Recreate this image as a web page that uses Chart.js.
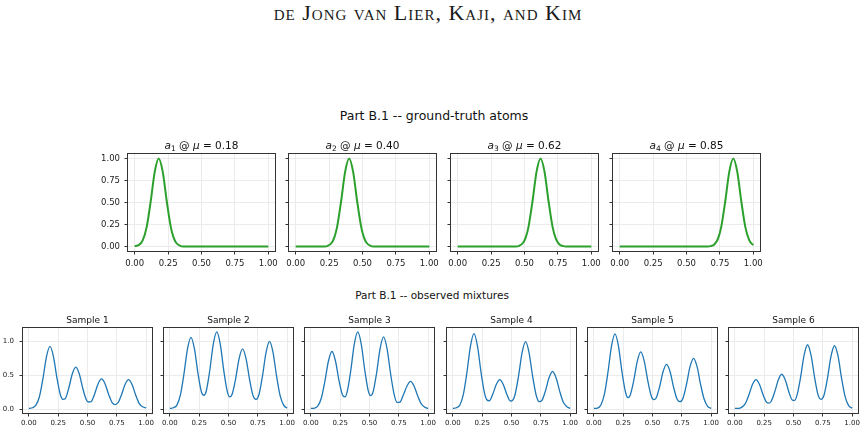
<!DOCTYPE html>
<html>
<head>
<meta charset="utf-8">
<script src="https://cdn.jsdelivr.net/npm/chart.js@4.4.1/dist/chart.umd.min.js"></script>
<style>
  body { margin: 0; background: #fff; width: 865px; height: 431px; position: relative; overflow: hidden;
         font-family: "DejaVu Sans", sans-serif; color: #111; }
  canvas { position: absolute; }
  .txt { position: absolute; white-space: nowrap; transform: translateX(-50%); line-height: 1; }
  #head { left: 428px; top: 2px; font-family: "Liberation Serif", serif; font-variant: small-caps;
          font-size: 22px; letter-spacing: 1px; color: #1a1a1a; }
</style>
</head>
<body>
<div id="head" class="txt">de Jong van Lier, Kaji, and Kim</div>
<div class="txt" style="left:434px; top:110px; font-size:12.5px">Part B.1 -- ground-truth atoms</div>
<div class="txt" style="left:432px; top:290px; font-size:10.5px">Part B.1 -- observed mixtures</div>
<script>
// shared x grid
const xGrid = [0.00, 0.03, 0.06, 0.09, 0.12, 0.15, 0.18, 0.21, 0.24, 0.27, 0.29, 0.31, 0.34, 0.37, 0.40,
               0.43, 0.46, 0.49, 0.51, 0.53, 0.56, 0.59, 0.62, 0.65, 0.68, 0.71, 0.735, 0.76, 0.79, 0.82,
               0.85, 0.88, 0.91, 0.94, 0.97, 1.00];

// ground-truth atoms
const atom1 = [0.006, 0.016, 0.070, 0.224, 0.514, 0.847, 1.000, 0.847, 0.514, 0.224, 0.107, 0.044, 0.009, 0.001, 0,
               0, 0, 0, 0, 0, 0, 0, 0, 0, 0, 0, 0, 0, 0, 0, 0, 0, 0, 0, 0, 0];
const atom2 = [0, 0, 0, 0, 0, 0, 0, 0.001, 0.009, 0.044, 0.107, 0.224, 0.514, 0.847, 1.000,
               0.847, 0.514, 0.224, 0.107, 0.044, 0.009, 0.001, 0, 0, 0, 0, 0, 0, 0, 0, 0, 0, 0, 0, 0, 0];
const atom3 = [0, 0, 0, 0, 0, 0, 0, 0, 0, 0, 0, 0, 0, 0, 0,
               0.001, 0.009, 0.044, 0.107, 0.224, 0.514, 0.847, 1.000, 0.847, 0.514, 0.224, 0.087, 0.027, 0.005, 0.001,
               0, 0, 0, 0, 0, 0];
const atom4 = [0, 0, 0, 0, 0, 0, 0, 0, 0, 0, 0, 0, 0, 0, 0, 0, 0, 0, 0, 0, 0, 0, 0,
               0.001, 0.005, 0.027, 0.087, 0.224, 0.514, 0.847, 1.000, 0.847, 0.514, 0.224, 0.070, 0.016];
const atomIndex = ['1', '2', '3', '4'];
const atomMu = ['0.18', '0.40', '0.62', '0.85'];

// observed mixtures
const sample1 = [0.010, 0.020, 0.060, 0.183, 0.450, 0.772, 0.925, 0.772, 0.454, 0.204, 0.145, 0.154, 0.308, 0.518, 0.620,
                 0.518, 0.305, 0.138, 0.105, 0.109, 0.221, 0.372, 0.445, 0.372, 0.218, 0.097, 0.068, 0.095, 0.213, 0.363,
                 0.435, 0.363, 0.212, 0.086, 0.035, 0.020];
const sample2 = [0.010, 0.020, 0.060, 0.210, 0.516, 0.885, 1.060, 0.885, 0.523, 0.249, 0.205, 0.264, 0.566, 0.955, 1.140,
                 0.955, 0.565, 0.258, 0.180, 0.215, 0.440, 0.743, 0.890, 0.743, 0.436, 0.196, 0.145, 0.216, 0.490, 0.835,
                 1.000, 0.835, 0.487, 0.198, 0.060, 0.015];
const sample3 = [0.010, 0.015, 0.048, 0.168, 0.414, 0.710, 0.850, 0.710, 0.421, 0.207, 0.180, 0.259, 0.565, 0.955, 1.140,
                 0.955, 0.571, 0.266, 0.200, 0.250, 0.526, 0.889, 1.065, 0.889, 0.520, 0.219, 0.100, 0.105, 0.215, 0.342,
                 0.410, 0.342, 0.200, 0.081, 0.030, 0.010];
const sample4 = [0.010, 0.020, 0.062, 0.221, 0.543, 0.931, 1.115, 0.931, 0.546, 0.236, 0.138, 0.124, 0.219, 0.363, 0.435,
                 0.363, 0.218, 0.120, 0.130, 0.212, 0.488, 0.831, 0.995, 0.831, 0.487, 0.208, 0.110, 0.130, 0.273, 0.463,
                 0.555, 0.463, 0.270, 0.110, 0.040, 0.010];
const sample5 = [0.010, 0.015, 0.062, 0.220, 0.541, 0.927, 1.110, 0.927, 0.546, 0.249, 0.170, 0.205, 0.419, 0.706, 0.845,
                 0.706, 0.416, 0.189, 0.140, 0.160, 0.326, 0.551, 0.660, 0.551, 0.323, 0.146, 0.110, 0.162, 0.367, 0.626,
                 0.750, 0.626, 0.365, 0.149, 0.042, 0.010];
const sample6 = [0.010, 0.010, 0.030, 0.086, 0.212, 0.363, 0.435, 0.363, 0.215, 0.104, 0.090, 0.117, 0.254, 0.430, 0.515,
                 0.430, 0.257, 0.134, 0.130, 0.206, 0.466, 0.793, 0.950, 0.793, 0.466, 0.207, 0.145, 0.204, 0.458, 0.781,
                 0.935, 0.781, 0.455, 0.185, 0.052, 0.015];
const sampleNames = ['Sample 1', 'Sample 2', 'Sample 3', 'Sample 4', 'Sample 5', 'Sample 6'];

// tick values
const xTicks = [0, 0.25, 0.5, 0.75, 1.0];
const atomYTicks = [0, 0.25, 0.5, 0.75, 1.0];
const sampleYTicks = [0, 0.5, 1.0];

Chart.defaults.font.family = '"DejaVu Sans", sans-serif';
Chart.defaults.color = '#222';

const FONT = '"DejaVu Sans", sans-serif';

function makePlot(c) {
  const W = c.w + c.padL + c.padR, H = c.h + c.padT + c.padB;
  const cv = document.createElement('canvas');
  cv.width = W; cv.height = H;
  cv.style.left = (c.left - c.padL) + 'px';
  cv.style.top = (c.top - c.padT) + 'px';
  cv.style.width = W + 'px'; cv.style.height = H + 'px';
  document.body.appendChild(cv);

  // frame around the axes + (math) title above it
  const frame = {
    id: 'frame',
    afterDraw(chart) {
      const ctx = chart.ctx, a = chart.chartArea;
      ctx.save();
      ctx.strokeStyle = '#333';
      ctx.lineWidth = 1;
      ctx.strokeRect(Math.round(a.left) - 0.5, Math.round(a.top) - 0.5,
                     Math.round(a.right - a.left) + 1, Math.round(a.bottom - a.top) + 1);
      let total = 0;
      const widths = c.parts.map(p => { ctx.font = p.font; const w = ctx.measureText(p.text).width; total += w; return w; });
      let x = (a.left + a.right) / 2 - total / 2;
      ctx.fillStyle = '#111';
      ctx.textBaseline = 'alphabetic';
      c.parts.forEach((p, i) => {
        ctx.font = p.font;
        ctx.fillText(p.text, x, a.top - c.titleGap + (p.dy || 0));
        x += widths[i];
      });
      ctx.restore();
    }
  };

  new Chart(cv, {
    type: 'line',
    data: {
      datasets: [{
        data: xGrid.map((x, i) => ({ x: x, y: c.ys[i] })),
        borderColor: c.color,
        borderWidth: c.lw,
        pointRadius: 0,
        fill: false,
        cubicInterpolationMode: 'monotone'
      }]
    },
    options: {
      responsive: false,
      animation: false,
      layout: { padding: { top: c.padT, right: c.padR, left: 0, bottom: 0 } },
      plugins: { legend: { display: false }, tooltip: { enabled: false } },
      scales: {
        x: {
          type: 'linear', min: -0.05, max: 1.05,
          afterBuildTicks: s => { s.ticks = xTicks.map(v => ({ value: v })); },
          afterFit: s => { s.height = c.padB; s.paddingLeft = 0; s.paddingRight = 0; },
          grid: { color: '#ebebeb', lineWidth: 1, tickLength: 3.5, tickColor: '#333' },
          border: { display: false },
          ticks: { autoSkip: false, maxRotation: 0, padding: c.xPad, color: '#222',
                   font: { size: c.tickSize, family: FONT },
                   callback: v => v.toFixed(2) }
        },
        y: {
          type: 'linear', min: c.ymin, max: c.ymax,
          afterBuildTicks: s => { s.ticks = c.yTicks.map(v => ({ value: v })); },
          afterFit: s => { s.width = c.padL; s.paddingTop = 0; s.paddingBottom = 0; },
          grid: { color: '#ebebeb', lineWidth: 1, tickLength: 3.5, tickColor: '#333' },
          border: { display: false },
          ticks: { autoSkip: false, padding: c.yPad, color: '#222',
                   font: { size: c.tickSize, family: FONT },
                   callback: v => c.showY ? v.toFixed(c.yDigits) : '' }
        }
      }
    },
    plugins: [frame]
  });
}

// top row: ground-truth atoms
const atoms = [atom1, atom2, atom3, atom4];
const atomLefts = [128, 289, 451, 613];
atoms.forEach((ys, i) => {
  makePlot({
    left: atomLefts[i], top: 154, w: 147, h: 97,
    padL: 32, padR: 14, padT: 26, padB: 20,
    ys: ys, color: '#2ca02c', lw: 2,
    ymin: -0.05, ymax: 1.05, yTicks: atomYTicks, yDigits: 2, showY: i === 0,
    tickSize: 8.5, xPad: 4, yPad: 4.5, titleGap: 5,
    parts: [
      { text: 'a', font: 'italic 10.5px ' + FONT },
      { text: atomIndex[i], font: '7.5px ' + FONT, dy: 2 },
      { text: ' @ ', font: '10.5px ' + FONT },
      { text: 'μ', font: 'italic 10.5px ' + FONT },
      { text: ' = ' + atomMu[i], font: '10.5px ' + FONT }
    ]
  });
});

// bottom row: observed mixtures
const samples = [sample1, sample2, sample3, sample4, sample5, sample6];
const sampleLefts = [23, 164, 305, 447, 588, 729];
samples.forEach((ys, i) => {
  makePlot({
    left: sampleLefts[i], top: 328, w: 129, h: 85,
    padL: 22, padR: 12, padT: 16, padB: 18,
    ys: ys, color: '#1f77b4', lw: 1.3,
    ymin: -0.057, ymax: 1.197, yTicks: sampleYTicks, yDigits: 1, showY: i === 0,
    tickSize: 7, xPad: 2.5, yPad: 5.5, titleGap: 5,
    parts: [{ text: sampleNames[i], font: '9px ' + FONT }]
  });
});
</script>
</body>
</html>
